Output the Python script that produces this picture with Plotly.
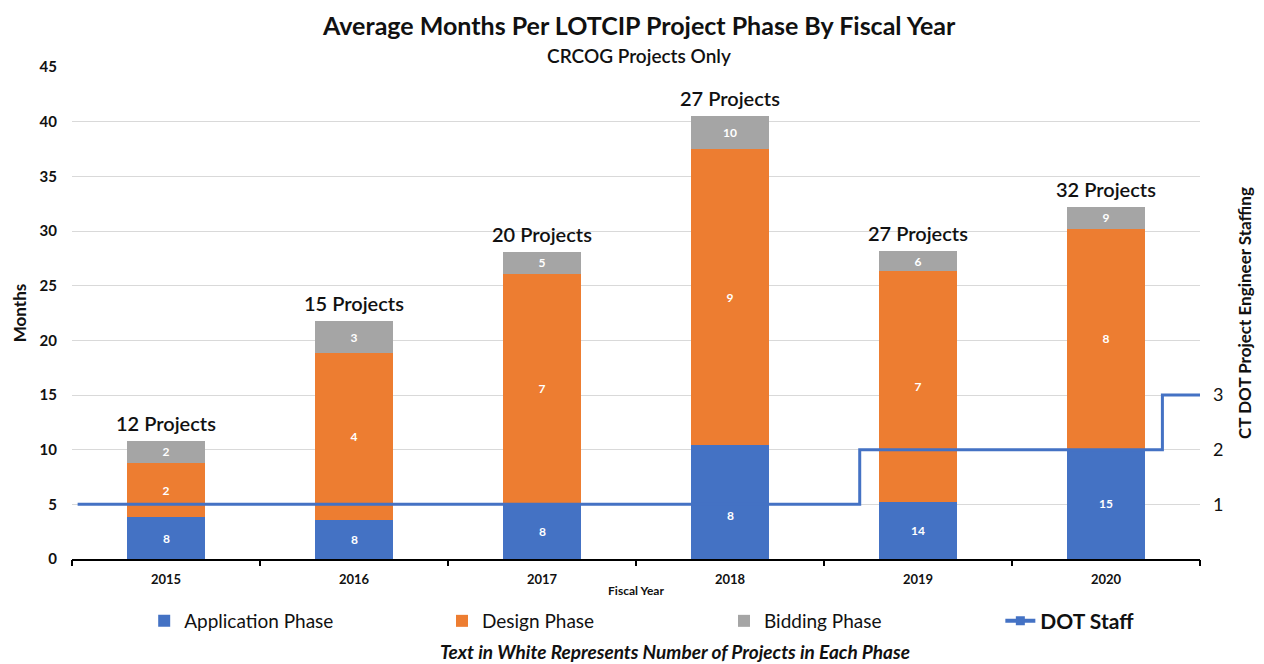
import plotly.graph_objects as go

years = [2015, 2016, 2017, 2018, 2019, 2020]
year_labels = ["2015", "2016", "2017", "2018", "2019", "2020"]

# average months per phase
app_months = [3.8, 3.6, 5.0, 10.4, 5.2, 10.1]
design_months = [5.0, 15.2, 21.1, 27.1, 21.1, 20.1]
bid_months = [2.0, 3.0, 2.0, 3.0, 1.9, 2.0]

# number of projects in each phase (white labels)
app_count = [8, 8, 8, 8, 14, 15]
design_count = [2, 4, 7, 9, 7, 8]
bid_count = [2, 3, 5, 10, 6, 9]
total_projects = [12, 15, 20, 27, 27, 32]

# DOT staff (step line) on fiscal-year scale
staff_x = [2014.53, 2018.69, 2020.30, 2020.5]
staff_y = [1, 2, 3, 3]

FONT = "Lato"
BLUE = "#4472C4"
ORANGE = "#ED7D31"
GRAY = "#A5A5A5"
TXT = "#111111"
LABEL_FONT = dict(color="white", size=12, family=FONT, weight="bold")

fig = go.Figure()

def add_bar(vals, counts, name, color, legend):
    fig.add_trace(go.Bar(
        x=years, y=vals, name=name, marker=dict(color=color, line=dict(width=0)),
        width=0.41, text=[str(c) for c in counts] if counts else None,
        textposition="inside", insidetextanchor="middle", constraintext="none",
        textangle=0, textfont=LABEL_FONT, hoverinfo="skip", legend=legend,
    ))

add_bar(app_months, None, "Application Phase", BLUE, "legend")
add_bar(design_months, design_count, "Design Phase", ORANGE, "legend2")
add_bar(bid_months, bid_count, "Bidding Phase", GRAY, "legend3")

fig.add_trace(go.Scatter(
    x=staff_x, y=staff_y, yaxis="y2", mode="lines", line_shape="hv",
    line=dict(color=BLUE, width=3), showlegend=False,
    name="DOT Staff", hoverinfo="skip",
))
# legend entry for the staff line (line with square marker)
fig.add_trace(go.Scatter(
    x=[None], y=[None], yaxis="y2", mode="lines+markers",
    line=dict(color=BLUE, width=4), marker=dict(symbol="square", size=9, color=BLUE),
    name="<b>DOT Staff</b>", legend="legend4", hoverinfo="skip",
))

# application-phase counts (2018 label sits below the staff line, as in the original)
for yr, a, c in zip(years, app_months, app_count):
    fig.add_annotation(x=yr, y=a / 2, text=str(c), showarrow=False,
                       yshift=-13 if yr == 2018 else 0, font=LABEL_FONT)

# total project labels above stacks
for yr, a, d, b, n in zip(years, app_months, design_months, bid_months, total_projects):
    fig.add_annotation(x=yr, y=a + d + b, text=f"{n} Projects", showarrow=False,
                       yanchor="bottom", yshift=4,
                       font=dict(size=20, family=FONT, color=TXT, weight=600))

fig.add_annotation(xref="paper", yref="paper", x=0.503, y=1, yshift=42, yanchor="middle",
                   text="<b>Average Months Per LOTCIP Project Phase By Fiscal Year</b>",
                   showarrow=False, font=dict(size=25, family=FONT, color=TXT))
fig.add_annotation(xref="paper", yref="paper", x=0.503, y=1, yshift=12, yanchor="middle",
                   text="CRCOG Projects Only", showarrow=False,
                   font=dict(size=19, family=FONT, color=TXT, weight=600))
fig.add_annotation(xref="paper", yref="paper", x=0.535, y=0, yshift=-92, yanchor="middle",
                   text="<b><i>Text in White Represents Number of Projects in Each Phase</i></b>",
                   showarrow=False, font=dict(size=19, family=FONT, color=TXT))

leg_common = dict(orientation="h", y=-0.126, yanchor="middle", xanchor="left",
                  bgcolor="rgba(0,0,0,0)")

fig.update_layout(
    width=1256, height=656,
    margin=dict(l=62, r=64, t=59, b=105),
    paper_bgcolor="white", plot_bgcolor="white",
    barmode="stack",
    font=dict(family=FONT, color=TXT),
    xaxis=dict(
        range=[2014.5, 2020.5], tickvals=years, ticktext=year_labels,
        showgrid=False, showline=True, linecolor="black", linewidth=1.5,
        ticks="", ticklabelstandoff=8,
        tickfont=dict(size=13, family=FONT, weight="bold"),
        title=dict(text="Fiscal Year", font=dict(size=12, family=FONT, weight="bold"), standoff=0),
        zeroline=False,
    ),
    xaxis2=dict(
        overlaying="x", range=[2014.5, 2020.5], tickvals=[2014.5 + i for i in range(7)],
        ticks="outside", ticklen=6, tickcolor="black", tickwidth=1.5,
        showticklabels=False, showgrid=False, showline=False, anchor="y",
        side="bottom",
    ),
    yaxis=dict(
        range=[0, 45], dtick=5, showgrid=True, gridcolor="#D9D9D9", gridwidth=1,
        zeroline=False, showline=False, ticklabelstandoff=14,
        tickfont=dict(size=15, family=FONT, weight="bold"),
        title=dict(text="Months", font=dict(size=17, family=FONT, weight="bold"), standoff=8),
    ),
    yaxis2=dict(
        overlaying="y", side="right", range=[0, 9], tickvals=[1, 2, 3],
        showgrid=False, zeroline=False, showline=False, ticklabelstandoff=12,
        tickfont=dict(size=18, family=FONT, color=TXT),
        title=dict(text="CT DOT Project Engineer Staffing",
                   font=dict(size=17, family=FONT, weight="bold"), standoff=16),
    ),
    legend=dict(x=0.064, font=dict(size=19, family=FONT, color=TXT), **leg_common),
    legend2=dict(x=0.328, font=dict(size=19, family=FONT, color=TXT), **leg_common),
    legend3=dict(x=0.578, font=dict(size=19, family=FONT, color=TXT), **leg_common),
    legend4=dict(x=0.823, font=dict(size=21, family=FONT, color=TXT), **leg_common),
    showlegend=True,
)

# invisible trace to activate the boundary tick axis
fig.add_trace(go.Scatter(x=[2014.5], y=[0], xaxis="x2", mode="markers",
                         marker=dict(opacity=0), showlegend=False, hoverinfo="skip"))

fig.write_html("out.html")
